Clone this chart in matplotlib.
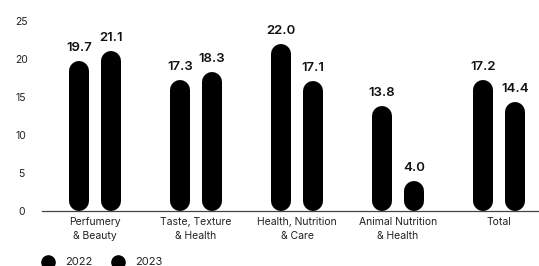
import matplotlib
matplotlib.use("Agg")
import matplotlib.pyplot as plt
from matplotlib.lines import Line2D

plt.rcParams['font.family'] = ['Inter', 'DejaVu Sans']

categories = ["Perfumery\n& Beauty", "Taste, Texture\n& Health", "Health, Nutrition\n& Care",
              "Animal Nutrition\n& Health", "Total"]
v2022 = [19.7, 17.3, 22.0, 13.8, 17.2]
v2023 = [21.1, 18.3, 17.1, 4.0, 14.4]
series = ["2022", "2023"]

W, H, DPI = 539, 266, 100
fig = plt.figure(figsize=(W / DPI, H / DPI), dpi=DPI)
ax_left, ax_right = 42 / W, 1.0
ax_bot, ax_top = 1 - 211 / H, 1 - 21 / H
ax = fig.add_axes([ax_left, ax_bot, ax_right - ax_left, ax_top - ax_bot])

ymax = 25
ax.set_ylim(0, ymax)
ax.set_xlim(-0.525, 4.396)

bar_px = 20
lw = bar_px * 72 / DPI
px_per_unit = (ax_top - ax_bot) * H / ymax
r = (bar_px / 2) / px_per_unit
off = 16 / 101

for i, (a, b) in enumerate(zip(v2022, v2023)):
    for x, v in ((i - off, a), (i + off, b)):
        ax.plot([x, x], [r, max(v - r, r)], color='black', lw=lw,
                solid_capstyle='round', zorder=3)
        ax.text(x, v + 0.9, f"{v:.1f}", ha='center', va='bottom',
                fontsize=9.5, fontweight='semibold', color='#111111')

ax.set_xticks(range(len(categories)))
ax.set_xticklabels(categories, fontsize=7.5, color='#222222', linespacing=1.5)
ax.set_yticks([0, 5, 10, 15, 20, 25])
ax.tick_params(axis='x', length=0, pad=4)
ax.tick_params(axis='y', length=0, pad=15, labelsize=7.5, labelcolor='#222222')
for lab in ax.get_yticklabels():
    lab.set_horizontalalignment('center')

for s in ['top', 'right', 'left']:
    ax.spines[s].set_visible(False)
ax.spines['bottom'].set_color('#444444')
ax.spines['bottom'].set_linewidth(0.9)

# legend drawn by hand at the bottom-left
leg_y = 1 - 262 / H
for name, cx, tx in zip(series, (48, 118), (65, 135)):
    fig.add_artist(Line2D([cx / W], [leg_y], marker='o', ls='', color='black',
                          markersize=9.5, transform=fig.transFigure))
    fig.text(tx / W, leg_y, name, ha='left', va='center', fontsize=8, color='#222222')

fig.savefig("out.png", dpi=DPI)
